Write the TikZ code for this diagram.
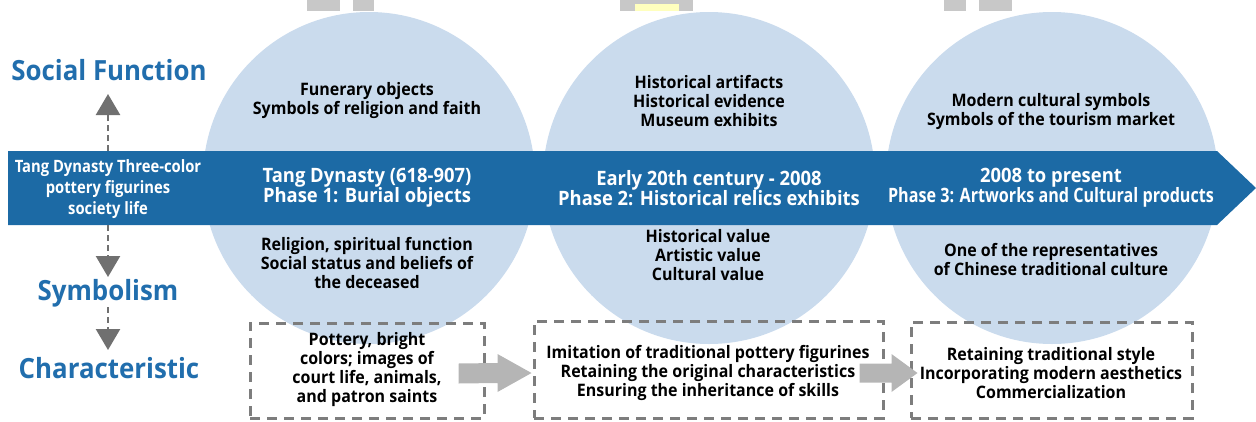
\documentclass[tikz,border=0pt]{standalone}
\usepackage{fontspec}
\setmainfont{Open Sans}[FakeStretch=0.93]
\newfontfamily\condfont{Open Sans}[FakeStretch=0.87]
\newfontfamily\narrowfont{Open Sans}[FakeStretch=0.815]
\usetikzlibrary{arrows.meta,calc}
\definecolor{bannerblue}{RGB}{28,106,165}
\definecolor{labelblue}{RGB}{33,110,173}
\definecolor{circblue}{RGB}{202,219,237}
\definecolor{dashgray}{RGB}{112,112,112}
\definecolor{boxgray}{RGB}{125,125,125}
\definecolor{arrowgray}{RGB}{181,181,181}
\definecolor{artgray}{RGB}{200,200,200}
\definecolor{artyellow}{RGB}{255,255,190}
\tikzset{
  blk/.style={font=\bfseries\fontsize{17.2}{19}\selectfont, align=center, text=black, inner sep=0pt},
  wht/.style={font=\bfseries\fontsize{19.8}{20}\selectfont, align=center, text=white, inner sep=0pt},
  lbl/.style={font=\bfseries\fontsize{27.8}{30}\selectfont, text=labelblue, inner sep=0pt},
  dbox/.style={draw=boxgray, line width=3pt, dash pattern=on 10pt off 7pt, inner sep=0pt},
  darrow/.style={draw=dashgray, line width=2.5pt, dash pattern=on 6pt off 4pt,
    -{Triangle[width=24pt,length=21pt]}, color=dashgray},
  bigarrow/.style={fill=arrowgray}
}
\begin{document}
\begin{tikzpicture}[x=1pt,y=-1pt]
\useasboundingbox (0,0) rectangle (1256,421);
% cropped fragments at top edge
\fill[artgray] (307,0) rectangle (340,11);
\fill[artgray] (353,0) rectangle (374,11);
\fill[artgray] (620,0) rectangle (693,11);
\fill[artyellow] (635,4) rectangle (679,11);
\fill[artgray] (944,0) rectangle (966,11);
\fill[artgray] (979,0) rectangle (1012,11);
% circles
\fill[circblue] (369,178) circle[radius=166pt];
\fill[circblue] (709,178) circle[radius=166pt];
\fill[circblue] (1052,178) circle[radius=166pt];
% banner
\fill[bannerblue] (8,151) -- (1217,151) -- (1256,188) -- (1217,225) -- (8,225) -- cycle;
% left labels
\node[lbl] (social) at (109,70) {Social Function};
\node[lbl] (symb) at (108,293) {Symbolism};
\node[lbl] (charac) at (109,368) {Characteristic};
\node[font=\condfont\bfseries\fontsize{17}{21}\selectfont, align=center, text=white, inner sep=0pt]
  (src) at (108,189) {Tang Dynasty Three-color\\pottery figurines\\society life};
\coordinate (bantop) at (108,151);
\coordinate (banbot) at (108,225);
\coordinate (uptip) at (108,94);
\coordinate (downtip) at (108,277);
\coordinate (symbot) at (108,307);
\coordinate (chartip) at (108,350);
\draw[darrow] (bantop) -- (uptip);
\draw[darrow] (banbot) -- (downtip);
\draw[darrow] (symbot) -- (chartip);
% phase 1
\node[blk] (c1top) at (367,100.5) {Funerary objects\\Symbols of religion and faith};
\node[wht] (b1) at (367,188) {Tang Dynasty (618-907)\\Phase 1: Burial objects};
\node[blk] (c1bot) at (367,262.5) {Religion, spiritual function\\Social status and beliefs of\\the deceased};
\node[dbox, minimum width=234pt, minimum height=95pt] (box1) at (367,370.5) {};
\node[blk] (t1) at (367,370) {Pottery, bright\\colors; images of\\court life, animals,\\and patron saints};
% phase 2
\node[blk] (c2top) at (709,101) {Historical artifacts\\Historical evidence\\Museum exhibits};
\node[wht] (b2) at (709,188) {Early 20th century - 2008\\Phase 2: Historical relics exhibits};
\node[blk] (c2bot) at (708,255.5) {Historical value\\Artistic value\\Cultural value};
\node[dbox, minimum width=349pt, minimum height=97pt] (box2) at (708.5,369.5) {};
\node[blk] (t2) at (708,372.5) {Imitation of traditional pottery figurines\\Retaining the original characteristics\\Ensuring the inheritance of skills};
% phase 3
\node[blk] (c3top) at (1051,112) {Modern cultural symbols\\Symbols of the tourism market};
\node[wht] (b3) at (1051,188) {2008 to present\\{\narrowfont Phase 3: Artworks and Cultural products}};
\node[blk] (c3bot) at (1051,259.5) {One of the representatives\\of Chinese traditional culture};
\node[dbox, minimum width=281pt, minimum height=96pt] (box3) at (1051.5,370) {};
\node[blk] (t3) at (1051,373) {Retaining traditional style\\Incorporating modern aesthetics\\Commercialization};
% block arrows between boxes
\coordinate (a1tail) at ($(box1.east)+(-27,3)$);
\coordinate (a1tip) at ($(box2.west)+(-1,3.5)$);
\fill[bigarrow] ($(a1tail)+(0,-10)$) -- ($(a1tip)+(-34,-10)$) -- ($(a1tip)+(-34,-19)$) -- (a1tip)
  -- ($(a1tip)+(-34,19)$) -- ($(a1tip)+(-34,10)$) -- ($(a1tail)+(0,10)$) -- cycle;
\coordinate (a2tail) at ($(box2.east)+(-25,3.5)$);
\coordinate (a2tip) at ($(box3.west)+(8,3)$);
\fill[bigarrow] ($(a2tail)+(0,-9.5)$) -- ($(a2tip)+(-26,-9.5)$) -- ($(a2tip)+(-26,-19)$) -- (a2tip)
  -- ($(a2tip)+(-26,19)$) -- ($(a2tip)+(-26,9.5)$) -- ($(a2tail)+(0,9.5)$) -- cycle;
\end{tikzpicture}
\end{document}
